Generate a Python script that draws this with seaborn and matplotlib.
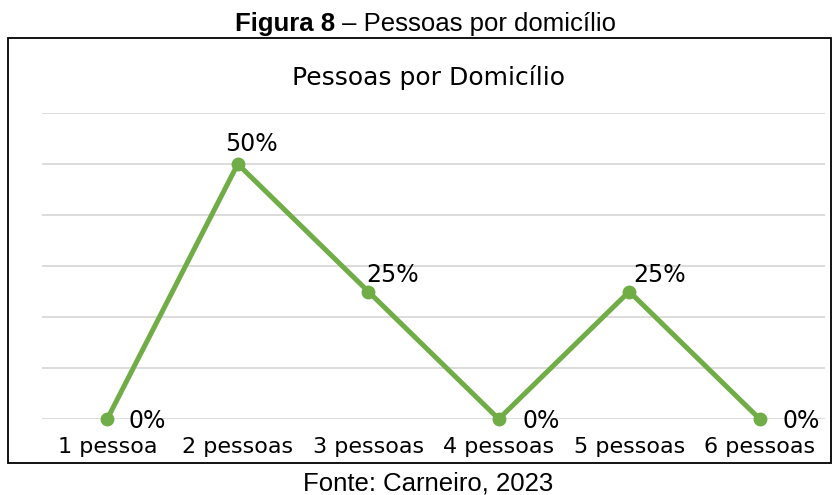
import matplotlib
matplotlib.use("Agg")
import matplotlib.pyplot as plt
import matplotlib.patches as patches
import seaborn as sns
import pandas as pd

# Data
categorias = ["1 pessoa", "2 pessoas", "3 pessoas", "4 pessoas", "5 pessoas", "6 pessoas"]
percentuais = [0.00, 0.50, 0.25, 0.00, 0.25, 0.00]
rotulos = ["0%", "50%", "25%", "0%", "25%", "0%"]

df = pd.DataFrame({"Categoria": categorias, "Percentual": percentuais})
df["pos"] = range(len(df))

sns.set_theme(style="white")
plt.rcParams["font.family"] = ["DejaVu Sans"]
plt.rcParams["text.color"] = "black"

fig = plt.figure(figsize=(8.33, 4.95), dpi=100)
W, H = 833, 495
ax = fig.add_axes([42 / W, 1 - 419 / H, (825 - 42) / W, (419 - 113) / H])

verde = "#70AD47"
sns.lineplot(data=df, x="pos", y="Percentual", ax=ax, color=verde, linewidth=3.6,
             marker="o", markersize=10, markeredgewidth=0, zorder=3, clip_on=False)

ax.set_xlim(-0.5, len(categorias) - 0.5)
ax.set_ylim(0, 0.6)
ax.set_yticks([0, 0.1, 0.2, 0.3, 0.4, 0.5, 0.6])
ax.set_yticklabels([])
ax.yaxis.grid(True, color="#d9d9d9", linewidth=1.3)
ax.xaxis.grid(False)
ax.set_xticks(df["pos"])
ax.set_xticklabels(categorias, fontsize=16, color="black")
ax.tick_params(axis="x", length=0, pad=13)
ax.tick_params(axis="y", length=0)
ax.set_xlabel("")
ax.set_ylabel("")
for s in ax.spines.values():
    s.set_visible(False)

# data labels (offsets in pixels, as placed in the original)
offsets = [(40, -2), (14, 20), (24, 17), (42, -2), (30, 16), (41, -2)]
for i, (v, r) in enumerate(zip(percentuais, rotulos)):
    ax.annotate(r, (i, v), xytext=offsets[i], textcoords="offset pixels",
                ha="center", va="center", fontsize=17, color="black")

# chart title inside box
fig.text(428 / W, 1 - 77 / H, "Pessoas por Domicílio", ha="center", va="center",
         fontsize=18, color="black")

# box around chart
rect = patches.Rectangle((8 / W, 1 - 463 / H), (831 - 8) / W, (463 - 38) / H,
                         transform=fig.transFigure, fill=False, edgecolor="black",
                         linewidth=1.3)
fig.patches.append(rect)

# caption above and source below
fig.text(335 / W, 1 - 24 / H, "Figura 8", ha="right", va="center", fontsize=18.5,
         fontweight="bold", family="Liberation Sans", color="black")
fig.text(335 / W, 1 - 24 / H, " – Pessoas por domicílio", ha="left", va="center",
         fontsize=18.5, family="Liberation Sans", color="black")
fig.text(428 / W, 1 - 483 / H, "Fonte: Carneiro, 2023", ha="center", va="center",
         fontsize=18.5, family="Liberation Sans", color="black")

fig.savefig("out.png", dpi=100)
